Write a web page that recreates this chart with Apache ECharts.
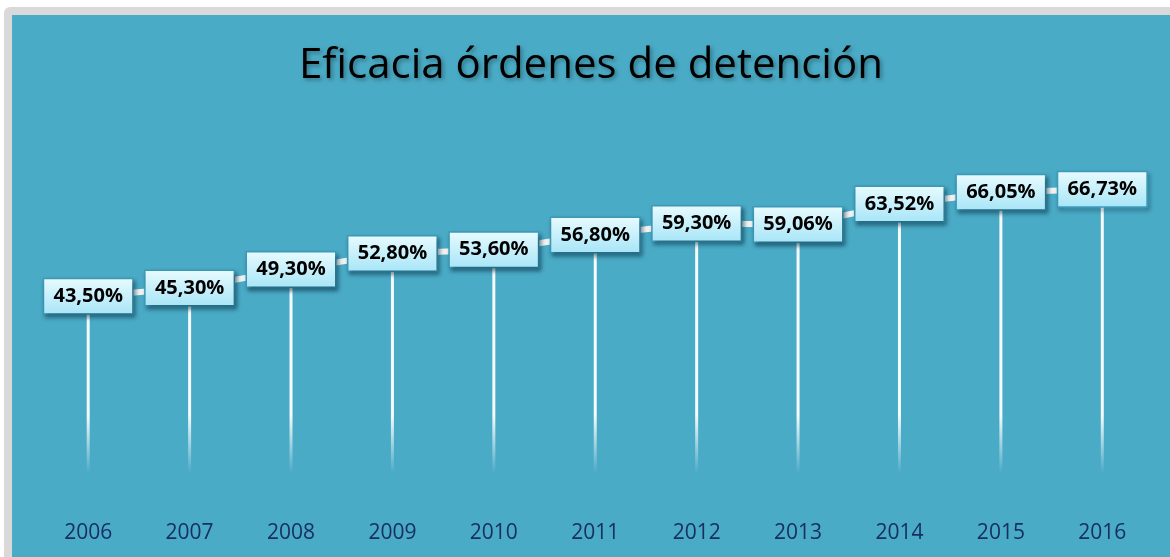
<!DOCTYPE html>
<html lang="es">
<head>
    <meta charset="UTF-8">
    <title>Eficacia órdenes de detención</title>
    <script src="https://cdn.jsdelivr.net/npm/echarts@6/dist/echarts.min.js"></script>
    <style>
        body { margin: 0; background: #fff; overflow: hidden; }
        #frame {
            position: absolute; left: 4px; top: 7px;
            width: 1200px; height: 600px;
            background: #d9d9d9; border-radius: 6px;
        }
        #chart { position: absolute; left: 12px; top: 15px; width: 1158px; height: 542px; }
    </style>
</head>
<body>
    <div id="frame"></div>
    <div id="chart"></div>
    <script>
        // datos
        var years = ['2006', '2007', '2008', '2009', '2010', '2011', '2012', '2013', '2014', '2015', '2016']
        var eficacia = [43.50, 45.30, 49.30, 52.80, 53.60, 56.80, 59.30, 59.06, 63.52, 66.05, 66.73]

        var chart = echarts.init(document.getElementById('chart'))

        var option = {
            backgroundColor: '#4aabc6',
            title: {
                text: 'Eficacia órdenes de detención',
                left: 'center',
                top: 25,
                textStyle: {
                    fontFamily: 'Open Sans',
                    fontWeight: 'normal',
                    fontSize: 42,
                    color: '#000',
                    textShadowColor: 'rgba(0,0,0,0.35)',
                    textShadowBlur: 4,
                    textShadowOffsetX: 2,
                    textShadowOffsetY: 2
                }
            },
            grid: { left: 25.5, right: 17, top: 113, bottom: 60 },
            xAxis: {
                type: 'category',
                data: years,
                axisLine: { show: false },
                axisTick: { show: false },
                axisLabel: {
                    margin: 26,
                    fontFamily: 'Open Sans',
                    fontSize: 21,
                    color: '#172f66'
                }
            },
            yAxis: {
                type: 'value',
                min: 0,
                max: 80,
                show: false,
                splitLine: { show: false }
            },
            series: [
                {
                    // líneas verticales
                    type: 'bar',
                    data: eficacia,
                    barWidth: 3,
                    silent: true,
                    itemStyle: {
                        color: {
                            type: 'linear', x: 0, y: 400, x2: 0, y2: 458, global: true,
                            colorStops: [
                                { offset: 0, color: 'rgba(255,255,255,0.95)' },
                                { offset: 1, color: 'rgba(255,255,255,0)' }
                            ]
                        }
                    }
                },
                {
                    type: 'line',
                    data: eficacia,
                    symbol: 'circle',
                    symbolSize: 2,
                    showSymbol: true,
                    itemStyle: { color: '#f2f2f2' },
                    lineStyle: { color: '#f2f2f2', width: 6 },
                    label: {
                        show: true,
                        position: 'inside',
                        formatter: function (p) {
                            return p.value.toFixed(2).replace('.', ',') + '%'
                        },
                        fontFamily: 'Open Sans',
                        fontWeight: 'bold',
                        fontSize: 20,
                        lineHeight: 24,
                        color: '#000',
                        width: 76,
                        align: 'center',
                        padding: [6, 6, 4, 6],
                        borderColor: '#3d9bb8',
                        borderWidth: 1.5,
                        backgroundColor: {
                            type: 'linear', x: 0, y: 0, x2: 0, y2: 1,
                            colorStops: [
                                { offset: 0, color: '#e8fbff' },
                                { offset: 1, color: '#a7e5f7' }
                            ]
                        },
                        shadowColor: 'rgba(0,40,60,0.45)',
                        shadowBlur: 4,
                        shadowOffsetX: 2,
                        shadowOffsetY: 3
                    },
                    z: 3
                }
            ]
        }

        chart.setOption(option)
    </script>
</body>
</html>
